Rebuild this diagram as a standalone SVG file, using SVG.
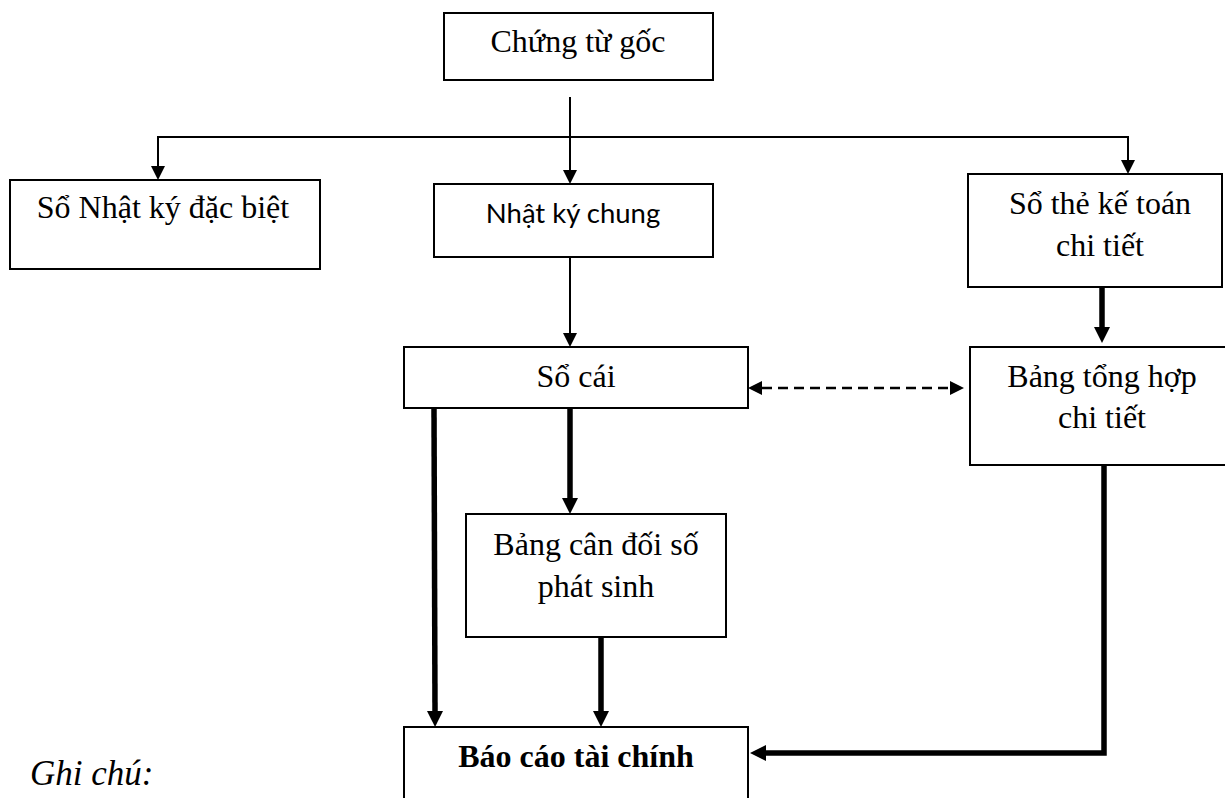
<svg xmlns="http://www.w3.org/2000/svg" width="1225" height="798" viewBox="0 0 1225 798">
<style>
.box{fill:#fff;stroke:#000;stroke-width:2}
.t{font-family:"Liberation Serif","Times New Roman",serif;font-size:32px;fill:#000;text-anchor:middle}
.s{font-family:Lato,"Liberation Sans",sans-serif;font-size:27.5px;fill:#000;text-anchor:middle}
.thin{fill:none;stroke:#000;stroke-width:2}
.thick{fill:none;stroke:#000;stroke-width:5.5;stroke-linejoin:miter}
.dash{fill:none;stroke:#000;stroke-width:2.5;stroke-dasharray:10 6}
</style>
<defs>
<marker id="a" markerUnits="userSpaceOnUse" markerWidth="14" markerHeight="14" refX="0" refY="7" orient="auto"><path d="M0,0 L14,7 L0,14 Z" fill="#000"/></marker>
<marker id="ak" markerUnits="userSpaceOnUse" markerWidth="16" markerHeight="16" refX="0" refY="8" orient="auto"><path d="M0,0 L16,8 L0,16 Z" fill="#000"/></marker>
<marker id="ad" markerUnits="userSpaceOnUse" markerWidth="14" markerHeight="14" refX="0" refY="7" orient="auto-start-reverse"><path d="M0,0 L14,7 L0,14 Z" fill="#000"/></marker>
</defs>
<g id="n1"><rect class="box" x="444" y="13" width="269" height="67"/><text class="t" x="578" y="52">Chứng từ gốc</text></g>
<g id="n2"><rect class="box" x="10" y="180" width="310" height="89"/><text class="t" x="163" y="218">Sổ Nhật ký đặc biệt</text></g>
<g id="n3"><rect class="box" x="434" y="184" width="279" height="73"/><text class="s" x="573" y="223">Nhật ký chung</text></g>
<g id="n4"><rect class="box" x="968" y="174" width="254" height="113"/><text class="t" x="1100" y="214">Sổ thẻ kế toán</text><text class="t" x="1100" y="256">chi tiết</text></g>
<g id="n5"><rect class="box" x="404" y="347" width="344" height="61"/><text class="t" x="576" y="387">Sổ cái</text></g>
<g id="n6"><rect class="box" x="970" y="347" width="262" height="118"/><text class="t" x="1102" y="387">Bảng tổng hợp</text><text class="t" x="1102" y="428">chi tiết</text></g>
<g id="n7"><rect class="box" x="466" y="514" width="260" height="123"/><text class="t" x="596" y="555">Bảng cân đối số</text><text class="t" x="596" y="597">phát sinh</text></g>
<g id="n8"><rect class="box" x="404" y="727" width="344" height="90"/><text class="t" x="576" y="767" font-weight="bold">Báo cáo tài chính</text></g>
<g id="connectors">
<path class="thin" d="M570,97 V170" marker-end="url(#a)"/>
<path class="thin" d="M570,137 H158 V166" marker-end="url(#a)"/>
<path class="thin" d="M570,137 H1128 V160" marker-end="url(#a)"/>
<path class="thin" d="M570,257 V333" marker-end="url(#a)"/>
<path class="thick" d="M1102,287 V327" marker-end="url(#ak)"/>
<path class="dash" d="M762,388 H950" marker-start="url(#ad)" marker-end="url(#ad)"/>
<path class="thick" d="M434,408 L435,711" marker-end="url(#ak)"/>
<path class="thick" d="M570,408 V498" marker-end="url(#ak)"/>
<path class="thick" d="M601,637 V711" marker-end="url(#ak)"/>
<path class="thick" d="M1104,465 V753 H766" marker-end="url(#ak)"/>
</g>
<text x="30" y="785" font-family="Liberation Serif, Times New Roman, serif" font-size="35" font-style="italic">Ghi chú:</text>
</svg>
